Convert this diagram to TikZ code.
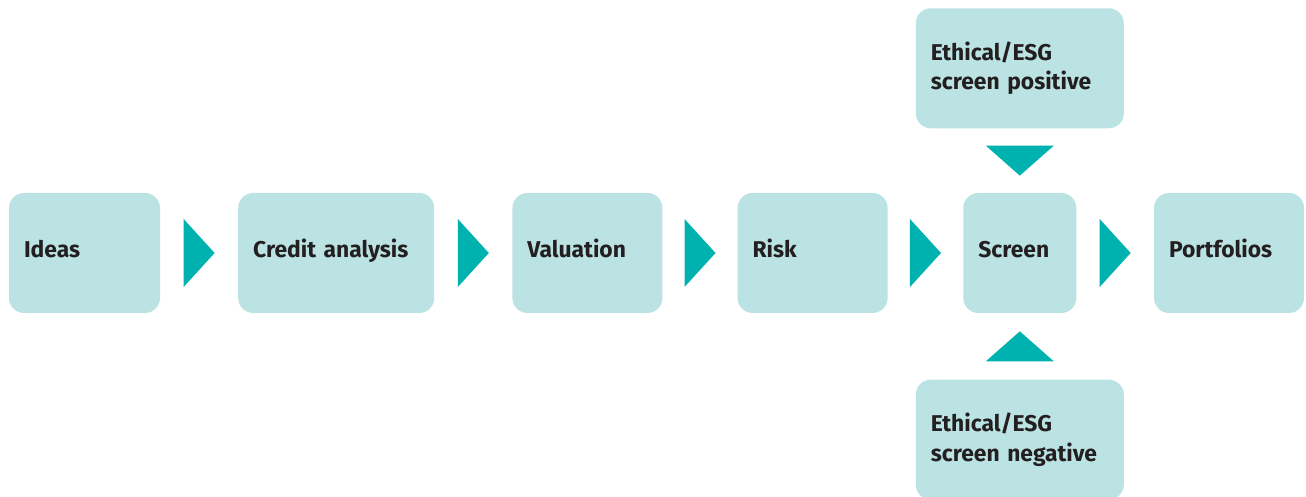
\documentclass[tikz,border=0pt]{standalone}
\usepackage{fontspec}
\setmainfont{Fira Sans}
\usetikzlibrary{positioning,calc}
\definecolor{fond}{HTML}{BCE3E3}
\definecolor{sarcelle}{HTML}{00B2AF}
\definecolor{encre}{HTML}{231F20}
\tikzstyle{boite}=[rectangle,rounded corners=0.3cm,fill=fond,minimum height=2.4cm,inner xsep=0.3cm,inner ysep=0pt,align=left,text=encre,font=\fontsize{13}{16.8}\selectfont\bfseries]
\tikzstyle{ligne}=[text height=0.3cm,text depth=0.1cm]
\tikzstyle{fleche}=[fill=sarcelle]

\begin{document}
\begin{tikzpicture}
\useasboundingbox (0,0) rectangle (26.12,9.94);

\node[boite,ligne,minimum width=3.02cm,text width=2.42cm] (ideas) at (1.69,4.88) {Ideas};
\node[boite,ligne,minimum width=3.92cm,text width=3.32cm] (credit) [right =1.55cm of ideas] {Credit analysis};
\node[boite,ligne,minimum width=3cm,text width=2.4cm] (valuation) [right =1.55cm of credit] {Valuation};
\node[boite,ligne,minimum width=3cm,text width=2.4cm] (risk) [right =1.49cm of valuation] {Risk};
\node[boite,ligne,minimum width=2.26cm,text width=1.66cm] (screen) [right =1.5cm of risk] {Screen};
\node[boite,ligne,minimum width=3cm,text width=2.4cm] (portfolios) [right =1.54cm of screen] {Portfolios};
\node[boite,minimum width=4.16cm,text width=3.56cm] (esgpos) [above =1.28cm of screen] {Ethical/ESG\\screen positive};
\node[boite,minimum width=4.16cm,text width=3.56cm] (esgneg) [below =1.32cm of screen] {Ethical/ESG\\screen negative};

\foreach \a/\b in {ideas/credit,credit/valuation,valuation/risk,risk/screen,screen/portfolios}
  \fill[fleche] ($(\a.east)!0.5!(\b.west)$) +(-0.31,0.68) -- +(0.31,0) -- +(-0.31,-0.68) -- cycle;
\fill[fleche] ($(esgpos.south)!0.5!(screen.north)$) +(-0.68,0.3) -- +(0.68,0.3) -- +(0,-0.3) -- cycle;
\fill[fleche] ($(esgneg.north)!0.5!(screen.south)$) +(-0.68,-0.3) -- +(0.68,-0.3) -- +(0,0.3) -- cycle;

\end{tikzpicture}
\end{document}
